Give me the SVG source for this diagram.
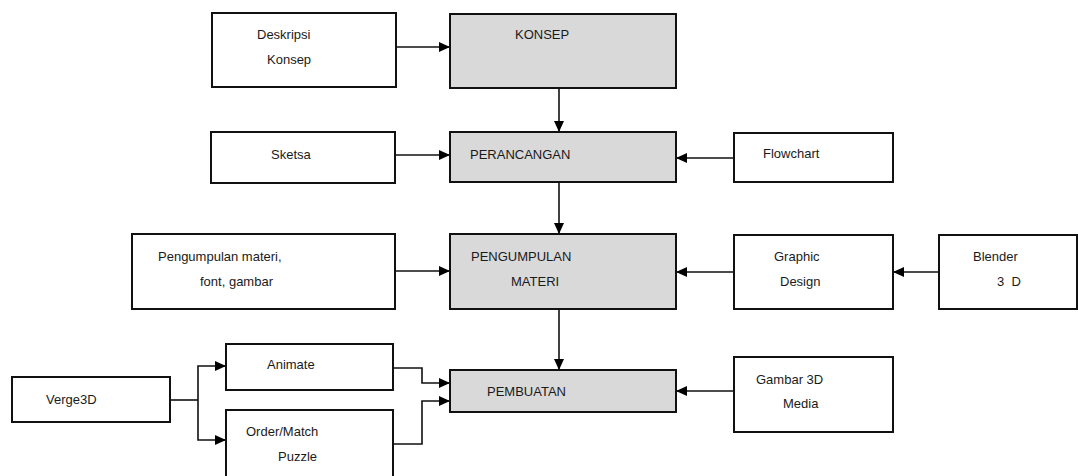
<svg xmlns="http://www.w3.org/2000/svg" width="1078" height="476" viewBox="0 0 1078 476">
<defs>
<style>
.box{fill:#ffffff;stroke:#111;stroke-width:2}
.main{fill:#d9d9d9;stroke:#111;stroke-width:2}
.t{font-family:"Liberation Sans",Arial,sans-serif;font-size:13px;fill:#1a1a1a}
.c{fill:none;stroke:#111;stroke-width:1.6}
</style>
<marker id="ah" markerUnits="userSpaceOnUse" markerWidth="11" markerHeight="10" refX="11" refY="5" orient="auto">
<path d="M0,0 L11,5 L0,10 z" fill="#000"/>
</marker>
</defs>
<rect width="1078" height="476" fill="#ffffff"/>
<g id="connectors">
<path class="c" d="M396,47 H450" marker-end="url(#ah)"/>
<path class="c" d="M559,88 V132" marker-end="url(#ah)"/>
<path class="c" d="M395,155 H450" marker-end="url(#ah)"/>
<path class="c" d="M734,158 H676" marker-end="url(#ah)"/>
<path class="c" d="M559,182 V234" marker-end="url(#ah)"/>
<path class="c" d="M395,271 H450" marker-end="url(#ah)"/>
<path class="c" d="M734,272 H676" marker-end="url(#ah)"/>
<path class="c" d="M939,272 H893" marker-end="url(#ah)"/>
<path class="c" d="M559,309 V370" marker-end="url(#ah)"/>
<path class="c" d="M734,391 H676" marker-end="url(#ah)"/>
<path class="c" d="M170,400 H198"/>
<path class="c" d="M198,400 V366 H226" marker-end="url(#ah)"/>
<path class="c" d="M198,400 V440 H226" marker-end="url(#ah)"/>
<path class="c" d="M393,368 H422 V383 H450" marker-end="url(#ah)"/>
<path class="c" d="M393,444 H422 V401 H450" marker-end="url(#ah)"/>
</g>
<g id="deskripsi"><rect class="box" x="212" y="13" width="184" height="74"/><text class="t" x="257" y="39">Deskripsi</text><text class="t" x="267" y="64">Konsep</text></g>
<g id="konsep"><rect class="main" x="450" y="14" width="226" height="74"/><text class="t" x="515" y="39">KONSEP</text></g>
<g id="sketsa"><rect class="box" x="211" y="132" width="184" height="51"/><text class="t" x="271" y="159">Sketsa</text></g>
<g id="perancangan"><rect class="main" x="450" y="132" width="226" height="50"/><text class="t" x="470" y="159">PERANCANGAN</text></g>
<g id="flowchart"><rect class="box" x="734" y="133" width="159" height="49"/><text class="t" x="763" y="158">Flowchart</text></g>
<g id="pengumpulan-materi"><rect class="box" x="132" y="234" width="263" height="75"/><text class="t" x="158" y="261">Pengumpulan materi,</text><text class="t" x="200" y="286">font, gambar</text></g>
<g id="pengumpulan"><rect class="main" x="450" y="234" width="226" height="75"/><text class="t" x="471" y="261">PENGUMPULAN</text><text class="t" x="511" y="286">MATERI</text></g>
<g id="graphic-design"><rect class="box" x="734" y="235" width="159" height="74"/><text class="t" x="774" y="261">Graphic</text><text class="t" x="780" y="286">Design</text></g>
<g id="blender"><rect class="box" x="939" y="235" width="138" height="74"/><text class="t" x="973" y="261">Blender</text><text class="t" x="997" y="286" xml:space="preserve">3  D</text></g>
<g id="verge3d"><rect class="box" x="12" y="377" width="158" height="45"/><text class="t" x="46" y="404">Verge3D</text></g>
<g id="animate"><rect class="box" x="226" y="344" width="167" height="46"/><text class="t" x="267" y="369">Animate</text></g>
<g id="order-match"><rect class="box" x="226" y="410" width="167" height="72"/><text class="t" x="246" y="436">Order/Match</text><text class="t" x="278" y="461">Puzzle</text></g>
<g id="pembuatan"><rect class="main" x="450" y="370" width="226" height="42"/><text class="t" x="487" y="396">PEMBUATAN</text></g>
<g id="gambar3d"><rect class="box" x="734" y="357" width="159" height="75"/><text class="t" x="756" y="384">Gambar 3D</text><text class="t" x="783" y="408">Media</text></g>
</svg>
